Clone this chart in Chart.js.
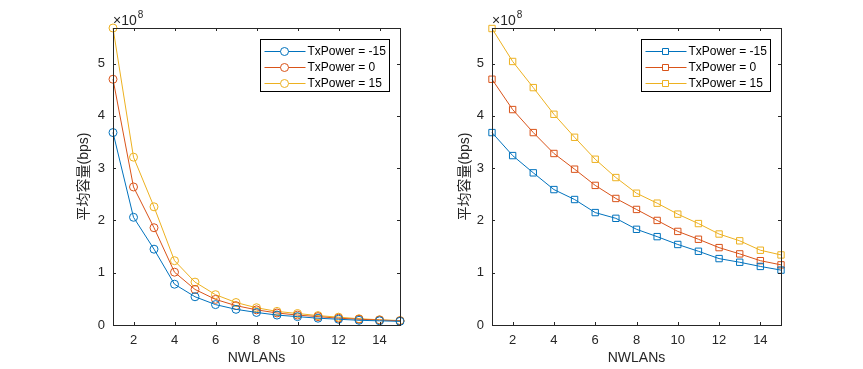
<!DOCTYPE html>
<html>
<head>
<meta charset="utf-8">
<script src="https://cdn.jsdelivr.net/npm/chart.js@4.4.0/dist/chart.umd.min.js"></script>
<style>
  html, body { margin: 0; padding: 0; background: #fff; }
  #wrap { position: relative; width: 863px; height: 369px; }
  canvas { position: absolute; top: 0; }
</style>
</head>
<body>
<div id="wrap">
  <canvas id="leftChart" width="431" height="369" style="left:0"></canvas>
  <canvas id="rightChart" width="432" height="369" style="left:431px"></canvas>
</div>
<script>
// x values and tick labels
const nwlans = [1, 2, 3, 4, 5, 6, 7, 8, 9, 10, 11, 12, 13, 14, 15];
const xTicks = [2, 4, 6, 8, 10, 12, 14];
const yTicks = [0, 1, 2, 3, 4, 5];
const yMax = 5.68;
const seriesLabels = ["TxPower = -15", "TxPower = 0", "TxPower = 15"];

// left plot (x 1e8 bps)
const leftBlue = [3.68, 2.06, 1.45, 0.78, 0.54, 0.39, 0.30, 0.24, 0.19, 0.16, 0.13, 0.11, 0.09, 0.08, 0.07];
const leftRed = [4.70, 2.64, 1.86, 1.01, 0.68, 0.49, 0.37, 0.29, 0.23, 0.19, 0.16, 0.13, 0.11, 0.095, 0.08];
const leftYellow = [5.68, 3.21, 2.26, 1.23, 0.82, 0.58, 0.43, 0.33, 0.26, 0.22, 0.18, 0.15, 0.12, 0.10, 0.085];

// right plot (x 1e8 bps)
const rightBlue = [3.68, 3.24, 2.91, 2.59, 2.40, 2.15, 2.04, 1.83, 1.69, 1.54, 1.41, 1.27, 1.20, 1.12, 1.05];
const rightRed = [4.70, 4.12, 3.68, 3.28, 2.98, 2.67, 2.42, 2.21, 2.00, 1.79, 1.64, 1.48, 1.36, 1.23, 1.15];
const rightYellow = [5.67, 5.04, 4.54, 4.03, 3.59, 3.17, 2.82, 2.52, 2.33, 2.12, 1.94, 1.74, 1.61, 1.43, 1.34];

const colors = ["#0072BD", "#D95319", "#EDB120"];
const axisColor = "#262626";
const fontFamily = "'Liberation Sans', Arial, 'Noto Sans CJK SC', sans-serif";

Chart.defaults.font.family = fontFamily;
Chart.defaults.color = axisColor;

// draws matlab style box, inward ticks, exponent and legend
const matlabBox = {
  id: "matlabBox",
  afterDraw(chart, args, opts) {
    const ctx = chart.ctx;
    const a = chart.chartArea;
    const xs = chart.scales.x, ys = chart.scales.y;
    const tl = 3;
    ctx.save();
    ctx.strokeStyle = axisColor;
    ctx.lineWidth = 1;
    ctx.beginPath();
    xTicks.forEach(v => {
      const px = Math.round(xs.getPixelForValue(v)) + 0.5;
      ctx.moveTo(px, a.bottom); ctx.lineTo(px, a.bottom - tl);
      ctx.moveTo(px, a.top); ctx.lineTo(px, a.top + tl);
    });
    yTicks.forEach(v => {
      const py = Math.round(ys.getPixelForValue(v)) + 0.5;
      ctx.moveTo(a.left, py); ctx.lineTo(a.left + tl, py);
      ctx.moveTo(a.right, py); ctx.lineTo(a.right - tl, py);
    });
    ctx.stroke();
    ctx.strokeRect(Math.round(a.left) + 0.5, Math.round(a.top) + 0.5,
      Math.round(a.right - a.left), Math.round(a.bottom - a.top));

    // exponent
    ctx.fillStyle = axisColor;
    ctx.textBaseline = "alphabetic";
    ctx.textAlign = "left";
    ctx.font = "14px " + fontFamily;
    ctx.fillText("\u00d710", a.left, 25);
    const w = ctx.measureText("\u00d710").width;
    ctx.font = "10px " + fontFamily;
    ctx.fillText("8", a.left + w + 1, 18);

    // legend
    const bw = 129, bh = 52;
    const bx = Math.round(a.right - 11 - bw) + 0.5;
    const by = Math.round(a.top + 11) + 0.5;
    ctx.fillStyle = "#fff";
    ctx.fillRect(bx, by, bw, bh);
    ctx.strokeStyle = "#000";
    ctx.strokeRect(bx, by, bw, bh);
    ctx.font = "12px " + fontFamily;
    ctx.textBaseline = "middle";
    chart.data.datasets.forEach((ds, i) => {
      const y = Math.round(by + 11 + i * 16);
      ctx.strokeStyle = ds.borderColor;
      ctx.beginPath();
      ctx.moveTo(bx + 4, y + 0.5); ctx.lineTo(bx + 45, y + 0.5);
      ctx.stroke();
      ctx.beginPath();
      if (opts.marker === "rect") {
        ctx.rect(bx + 21, y - 2.5, 6, 6);
      } else {
        ctx.arc(bx + 24, y + 0.5, 4, 0, Math.PI * 2);
      }
      ctx.fillStyle = "#fff";
      ctx.fill();
      ctx.stroke();
      ctx.fillStyle = "#000";
      ctx.fillText(ds.label, bx + 47, y + 1);
    });
    ctx.restore();
  }
};

function makeChart(id, series, marker, yAxisWidth, yTitlePad, pad) {
  const datasets = series.map((d, i) => ({
    label: seriesLabels[i],
    data: d.map((v, j) => ({ x: nwlans[j], y: v })),
    borderColor: colors[i],
    borderWidth: 1,
    pointStyle: marker === "rect" ? "rect" : "circle",
    pointRadius: marker === "rect" ? 4.5 : 4,
    pointBorderWidth: 1,
    pointBorderColor: colors[i],
    pointBackgroundColor: "rgba(0,0,0,0)",
    tension: 0,
    clip: false
  }));
  return new Chart(document.getElementById(id), {
    type: "line",
    data: { datasets: datasets },
    plugins: [matlabBox],
    options: {
      responsive: false,
      animation: false,
      layout: { padding: pad },
      plugins: {
        legend: { display: false },
        tooltip: { enabled: false },
        matlabBox: { marker: marker }
      },
      scales: {
        x: {
          type: "linear",
          min: 1,
          max: 15,
          grid: { display: false, drawTicks: false },
          border: { display: false },
          afterBuildTicks: s => { s.ticks = xTicks.map(v => ({ value: v })); },
          afterFit: s => { s.height = 44; },
          ticks: { padding: 8, font: { size: 13 }, color: axisColor },
          title: {
            display: true, text: "NWLANs", color: axisColor,
            font: { size: 14 }, padding: { top: 0, bottom: 2 }
          }
        },
        y: {
          min: 0,
          max: yMax,
          grid: { display: false, drawTicks: false },
          border: { display: false },
          afterBuildTicks: s => { s.ticks = yTicks.map(v => ({ value: v })); },
          afterFit: s => { s.width = yAxisWidth; },
          ticks: { padding: 8, font: { size: 13 }, color: axisColor },
          title: {
            display: true, text: "平均容量(bps)", color: axisColor,
            font: { size: 14 }, padding: { top: yTitlePad, bottom: 0 }
          }
        }
      }
    }
  });
}

makeChart("leftChart", [leftBlue, leftRed, leftYellow], "circle", 113, 75.6,
  { left: 0, right: 31, top: 28, bottom: 0 });
makeChart("rightChart", [rightBlue, rightRed, rightYellow], "rect", 61, 25.6,
  { left: 0, right: 82, top: 28, bottom: 0 });
</script>
</body>
</html>
